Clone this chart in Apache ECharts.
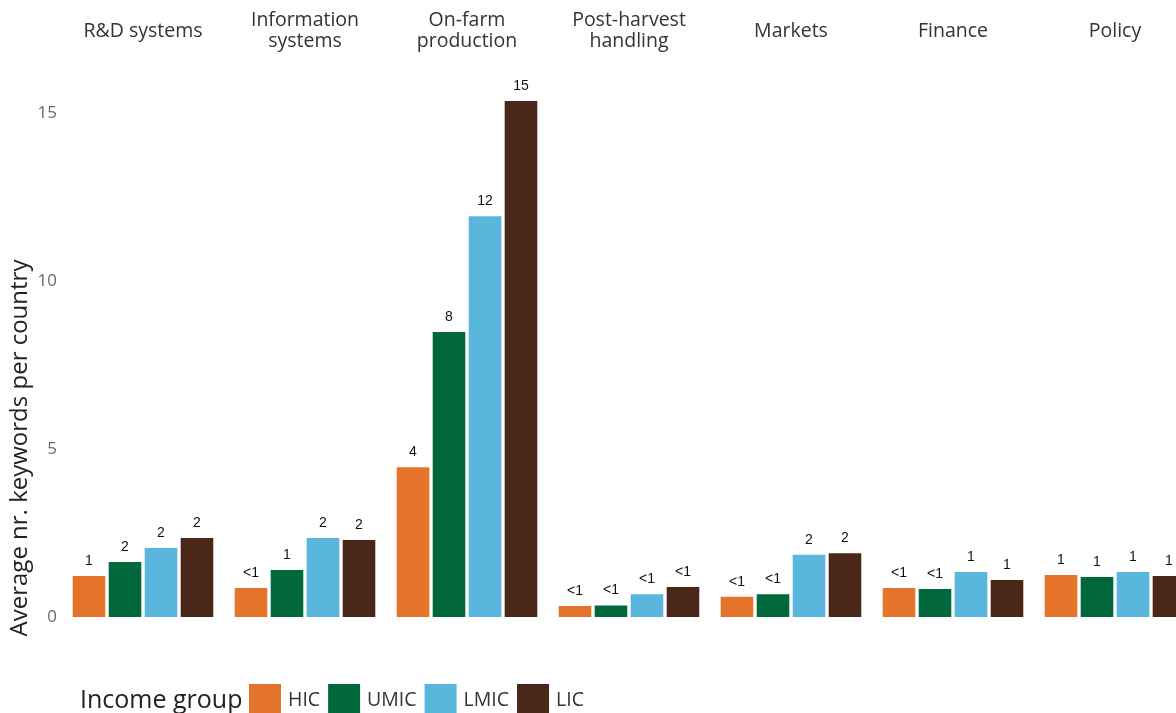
<!DOCTYPE html>
<html><head><meta charset="utf-8">
<script src="https://cdn.jsdelivr.net/npm/echarts@6/dist/echarts.min.js"></script>
<style>html,body{margin:0;padding:0;background:#fff;overflow:hidden;width:1176px;height:713px}#c{width:1200px;height:713px}</style>
</head><body><div id="c"></div>
<script>
const facets = ['R&D systems','Information\nsystems','On-farm\nproduction','Post-harvest\nhandling','Markets','Finance','Policy'];
const groups = ['HIC','UMIC','LMIC','LIC'];
const HIC  = [1.22, 0.86, 4.46, 0.33, 0.60, 0.86, 1.25];
const UMIC = [1.64, 1.40, 8.48, 0.34, 0.68, 0.83, 1.19];
const LMIC = [2.05, 2.35, 11.93, 0.68, 1.85, 1.34, 1.34];
const LIC  = [2.35, 2.29, 15.36, 0.89, 1.90, 1.10, 1.22];
const yTicks = [0, 5, 10, 15];

const values = [HIC, UMIC, LMIC, LIC];
const colors = ['#E5742B', '#00683A', '#5BB6DD', '#4A2719'];
const font = '"Open Sans", sans-serif';
const pitch = 162, gLeft = 71, gWidth = 144, zeroY = 617, pxPerUnit = 33.6, yMax = 16;
const gTop = zeroY - yMax * pxPerUnit;

const grids = [], xAxes = [], yAxes = [], series = [], graphics = [];
facets.forEach((f, i) => {
  grids.push({left: gLeft + pitch * i, width: gWidth, top: gTop, height: yMax * pxPerUnit, containLabel: false});
  xAxes.push({type: 'category', gridIndex: i, data: groups, show: false});
  yAxes.push({type: 'value', gridIndex: i, min: 0, max: yMax, interval: 5, show: i === 0,
    axisLine: {show: false}, axisTick: {show: false}, splitLine: {show: false},
    axisLabel: {show: i === 0, color: '#6b6b6b', fontSize: 17, fontFamily: font, margin: 14,
      formatter: v => yTicks.includes(v) ? String(v) : ''}});
  groups.forEach((g, k) => {
    const data = groups.map((_, j) => j === k ? values[k][i] : '-');
    series.push({type: 'bar', name: g, xAxisIndex: i, yAxisIndex: i, stack: 'f' + i, barWidth: 32.6,
      data, itemStyle: {color: colors[k]},
      label: {show: true, position: 'top', distance: 8, color: '#111', fontSize: 14, fontFamily: 'Liberation Sans, Arial, sans-serif',
        formatter: p => p.value < 1 ? '<1' : String(Math.round(p.value))}});
  });
  graphics.push({type: 'text', x: 143 + pitch * i, y: 31,
    style: {text: f, font: '19.5px ' + font, fill: '#333', align: 'center', verticalAlign: 'middle', lineHeight: 21}});
});
graphics.push({type: 'text', x: 20, y: 448, rotation: Math.PI / 2,
  style: {text: 'Average nr. keywords per country', font: '24px ' + font, fill: '#222', align: 'center', verticalAlign: 'middle'}});
graphics.push({type: 'text', x: 80, y: 701,
  style: {text: 'Income group', font: '25px ' + font, fill: '#222', align: 'left', verticalAlign: 'middle'}});

const chart = echarts.init(document.getElementById('c'));
chart.setOption({
  animation: false,
  grid: grids, xAxis: xAxes, yAxis: yAxes, series,
  legend: {data: groups, left: 249, top: 684, padding: 0, itemWidth: 32, itemHeight: 32, itemGap: 8, icon: 'rect',
    textStyle: {fontSize: 19.5, fontFamily: font, color: '#333', padding: [0, 0, 0, 2]}},
  graphic: graphics
});
</script></body></html>
